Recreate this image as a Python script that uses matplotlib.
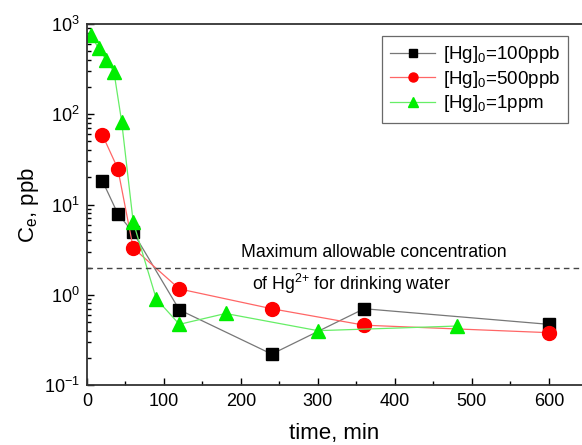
import matplotlib
matplotlib.use("Agg")
import matplotlib.pyplot as plt
from matplotlib.ticker import LogLocator, MultipleLocator

plt.rcParams['font.family'] = ['Liberation Sans', 'DejaVu Sans']
plt.rcParams['mathtext.fontset'] = 'custom'
plt.rcParams['mathtext.rm'] = 'Liberation Sans'
plt.rcParams['mathtext.it'] = 'Liberation Sans'

t_100 = [20, 40, 60, 120, 240, 360, 600]
c_100 = [18.3, 7.9, 4.9, 0.68, 0.22, 0.70, 0.47]

t_500 = [20, 40, 60, 120, 240, 360, 600]
c_500 = [59, 25, 3.3, 1.16, 0.70, 0.46, 0.38]

t_1ppm = [5, 15, 25, 35, 45, 60, 90, 120, 180, 300, 480]
c_1ppm = [750, 540, 400, 295, 83, 6.4, 0.9, 0.47, 0.62, 0.40, 0.45]

limit = 2.0
labels = ['[Hg]$_0$=100ppb', '[Hg]$_0$=500ppb', '[Hg]$_0$=1ppm']

fig = plt.figure(figsize=(5.82, 4.45), dpi=100)
ax = fig.add_axes([87/582, 60/445, 1 - 87/582, 361/445])

ax.plot(t_100, c_100, color='#777777', lw=0.9, marker='s', ms=9,
        mfc='black', mec='black', label=labels[0])
ax.plot(t_500, c_500, color='#ff6666', lw=0.9, marker='o', ms=10,
        mfc='red', mec='red', label=labels[1])
ax.plot(t_1ppm, c_1ppm, color='#66ee66', lw=0.9, marker='^', ms=10,
        mfc='#00ee00', mec='#00ee00', label=labels[2])

ax.axhline(limit, color='#444444', lw=1.0, ls=(0, (4, 3)))
ax.text(372, 2.35, 'Maximum allowable concentration', ha='center', va='bottom', fontsize=12.7)
ax.text(343, 1.8, 'of Hg$^{2{+}}$ for drinking water', ha='center', va='top', fontsize=12.7)

ax.set_yscale('log')
ax.set_ylim(0.1, 1000)
ax.set_xlim(0, 643)
ax.xaxis.set_major_locator(MultipleLocator(100))
ax.xaxis.set_minor_locator(MultipleLocator(50))
ax.yaxis.set_major_locator(LogLocator(base=10, numticks=10))
ax.yaxis.set_minor_locator(LogLocator(base=10, subs=range(2, 10), numticks=20))

ax.tick_params(which='both', direction='in', labelsize=13, width=1)
ax.tick_params(which='major', length=5)
ax.tick_params(which='minor', length=3)
ax.tick_params(axis='x', which='major', pad=6)
ax.tick_params(axis='y', which='major', pad=5)

for s in ['left', 'bottom', 'top']:
    ax.spines[s].set_linewidth(1.3)
    ax.spines[s].set_color('#333333')
ax.spines['right'].set_visible(False)

ax.set_xlabel('time, min', fontsize=16, labelpad=9)
ax.set_ylabel('C$_e$, ppb', fontsize=16, labelpad=2)

leg = ax.legend(loc='upper left', fontsize=13.5, frameon=True, fancybox=False,
                edgecolor='#444444', handlelength=2.4, handletextpad=0.4,
                labelspacing=0.18, borderpad=0.45, borderaxespad=0,
                markerscale=0.65)
leg.get_frame().set_linewidth(0.9)
leg.set_bbox_to_anchor((295/495, 1 - 12/361), transform=ax.transAxes)

fig.savefig('out.png', dpi=100)
